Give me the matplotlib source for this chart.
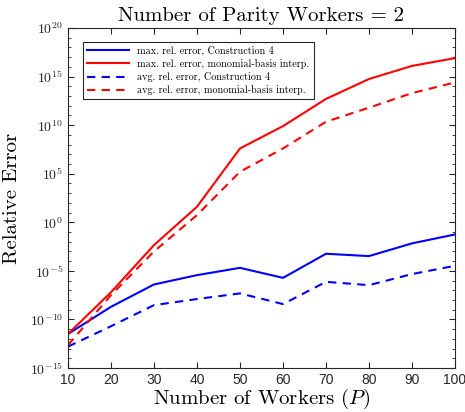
import numpy as np
import matplotlib
matplotlib.use('Agg')
import matplotlib.pyplot as plt
from matplotlib.ticker import FixedLocator, FuncFormatter

# 데이터 (log10 값으로 읽음)
workers = [10, 20, 30, 40, 50, 60, 70, 80, 90, 100]
max_c4 = [-11.5, -8.7, -6.4, -5.44, -4.69, -5.72, -3.24, -3.48, -2.17, -1.25]
max_mono = [-11.5, -7.2, -2.35, 1.6, 7.6, 9.9, 12.7, 14.75, 16.1, 16.9]
avg_c4 = [-12.8, -10.7, -8.53, -7.9, -7.32, -8.42, -6.13, -6.47, -5.33, -4.48]
avg_mono = [-12.65, -7.5, -3.0, 0.74, 5.2, 7.6, 10.35, 11.8, 13.3, 14.4]

labels = ['max. rel. error, Construction 4',
          'max. rel. error, monomial-basis interp.',
          'avg. rel. error, Construction 4',
          'avg. rel. error, monomial-basis interp.']

plt.rcParams['font.family'] = 'cmr10'
plt.rcParams['axes.formatter.use_mathtext'] = True
plt.rcParams['mathtext.fontset'] = 'custom'
plt.rcParams['mathtext.rm'] = 'Liberation Sans'
plt.rcParams['mathtext.it'] = 'cmmi10'

fig = plt.figure(figsize=(4.65, 4.12), dpi=100)
ax = fig.add_axes([0.1462, 0.1068, 0.8323, 0.8252])

ax.plot(workers, 10.0 ** np.array(max_c4), color='#0000ff', lw=1.5, label=labels[0])
ax.plot(workers, 10.0 ** np.array(max_mono), color='#ff0000', lw=1.5, label=labels[1])
ax.plot(workers, 10.0 ** np.array(avg_c4), color='#0000ff', lw=1.5, ls=(0, (4, 3)), label=labels[2])
ax.plot(workers, 10.0 ** np.array(avg_mono), color='#ff0000', lw=1.5, ls=(0, (4, 3)), label=labels[3])

ax.set_yscale('log')
ax.set_xlim(10, 100)
ax.set_ylim(1e-15, 1e20)
ax.set_xticks(workers)
ax.set_xticklabels([str(w) for w in workers], family='Liberation Sans')
ax.yaxis.set_major_locator(FixedLocator([10.0 ** k for k in range(-15, 21, 5)]))
ax.yaxis.set_minor_locator(FixedLocator([10.0 ** k for k in range(-15, 21)]))
ax.yaxis.set_major_formatter(FuncFormatter(lambda v, p: r'$\mathregular{10^{%d}}$' % round(np.log10(v))))
ax.yaxis.set_minor_formatter(FuncFormatter(lambda v, p: ''))

ax.tick_params(which='both', direction='in', top=True, right=True, colors='#262626', labelsize=10)
ax.tick_params(which='major', length=4)
ax.tick_params(which='minor', length=2)
for s in ax.spines.values():
    s.set_color('#262626')
    s.set_linewidth(0.8)

ax.set_title('Number of Parity Workers = 2', fontsize=15, pad=5)
ax.set_xlabel('Number of Workers ($P$)', fontsize=15, labelpad=0)
ax.set_ylabel('Relative Error', fontsize=15, labelpad=6)

leg = ax.legend(loc='upper left', bbox_to_anchor=(0.025, 0.975), fontsize=7.3, handlelength=4.2,
                fancybox=False, framealpha=1, edgecolor='#262626', borderpad=0.4, labelspacing=0.3)
leg.get_frame().set_linewidth(0.8)

plt.savefig('out.png', dpi=100)
